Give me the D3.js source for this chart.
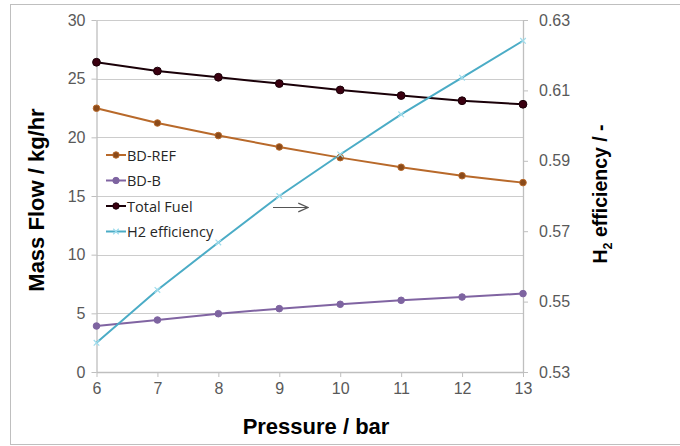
<!DOCTYPE html>
<html><head><meta charset="utf-8">
<script src="https://cdn.jsdelivr.net/npm/d3@7"></script>
<style>body{margin:0;background:#fff}svg{display:block;font-family:"Liberation Sans",Arial,sans-serif}</style>
</head><body><svg id="c" width="680" height="446"></svg>
<script>
const pressure = [6, 7, 8, 9, 10, 11, 12, 13];
const bdRef = [22.48, 21.22, 20.15, 19.18, 18.27, 17.45, 16.73, 16.14];
const bdB = [3.92, 4.43, 4.97, 5.40, 5.77, 6.11, 6.39, 6.68];
const totalFuel = [26.40, 25.65, 25.12, 24.58, 24.04, 23.56, 23.12, 22.82];
const h2Eff = [0.5383, 0.5533, 0.5668, 0.5800, 0.5918, 0.6032, 0.6136, 0.6241];
const leftTicks = [0, 5, 10, 15, 20, 25, 30];
const rightTicks = [0.53, 0.55, 0.57, 0.59, 0.61, 0.63];
const seriesNames = ["BD-REF", "BD-B", "Total Fuel", "H2 efficiency"];
const colors = ["#b8692a", "#8064a2", "#1a0008", "#4bacc6"];
const markerFill = ["#8a4a1a", "#7d64a0", "#3a0010", "#4bacc6"];

const svg = d3.select("#c");
const L = 96.5, R = 523, T = 20, B = 372;
const x = d3.scaleLinear().domain([6, 13]).range([L, R]);
const yL = d3.scaleLinear().domain([0, 30]).range([B, T]);
const yR = d3.scaleLinear().domain([0.53, 0.63]).range([B, T]);

// outer border
svg.append("rect").attr("x", 10.5).attr("y", 4.5).attr("width", 680).attr("height", 440)
  .attr("fill", "none").attr("stroke", "#bfbfbf").attr("stroke-width", 1);

// gridlines
svg.append("g").selectAll("line").data(leftTicks).join("line")
  .attr("x1", L).attr("x2", R).attr("y1", d => Math.round(yL(d)) + 0.5).attr("y2", d => Math.round(yL(d)) + 0.5)
  .attr("stroke", "#cccccc").attr("stroke-width", 1.2);

const tickColor = "#595959";
const gl = svg.append("g").attr("transform", `translate(${L},0)`)
  .call(d3.axisLeft(yL).tickValues(leftTicks).tickSize(5).tickPadding(6).tickSizeOuter(0));
const gr = svg.append("g").attr("transform", `translate(${R},0)`)
  .call(d3.axisRight(yR).tickValues(rightTicks).tickSize(5).tickPadding(11).tickFormat(d3.format(".2f")).tickSizeOuter(0));
const gb = svg.append("g").attr("transform", `translate(0,${B})`)
  .call(d3.axisBottom(x).tickValues(pressure).tickFormat(d3.format("d")).tickSize(5).tickPadding(6).tickSizeOuter(0));
[gl, gr, gb].forEach(g => {
  g.selectAll("path.domain").attr("stroke", "#bfbfbf").attr("stroke-width", 1.3);
  g.selectAll(".tick line").attr("stroke", "#bfbfbf");
  g.selectAll("text").attr("fill", tickColor).style("font-size", "16px").style("font-family", "Liberation Sans, Arial, sans-serif");
});

const lineL = d3.line().x((d, i) => x(pressure[i])).y(d => yL(d));
const lineR = d3.line().x((d, i) => x(pressure[i])).y(d => yR(d));
const leftSeries = [bdRef, bdB, totalFuel];
leftSeries.forEach((s, k) => {
  svg.append("path").datum(s).attr("d", lineL).attr("fill", "none").attr("stroke", colors[k]).attr("stroke-width", 2);
});
svg.append("path").datum(h2Eff).attr("d", lineR).attr("fill", "none").attr("stroke", colors[3]).attr("stroke-width", 2);

leftSeries.forEach((s, k) => {
  svg.append("g").selectAll("circle").data(s).join("circle")
    .attr("cx", (d, i) => x(pressure[i])).attr("cy", d => yL(d)).attr("r", k === 2 ? 3.9 : 3.3)
    .attr("fill", markerFill[k]).attr("stroke", colors[k]).attr("stroke-width", 1);
});
const cross = d3.symbol().type(d3.symbolX).size(22);
svg.append("g").selectAll("path").data(h2Eff).join("path")
  .attr("d", cross).attr("transform", (d, i) => `translate(${x(pressure[i])},${yR(d)})`)
  .attr("stroke", "#9fdcec").attr("stroke-width", 1.2).attr("fill", "none");

// legend
const lg = svg.append("g");
seriesNames.forEach((n, k) => {
  const yy = 155 + k * 25.5;
  lg.append("line").attr("x1", 106).attr("x2", 126).attr("y1", yy).attr("y2", yy)
    .attr("stroke", colors[k]).attr("stroke-width", 2);
  if (k < 3) {
    lg.append("circle").attr("cx", 116).attr("cy", yy).attr("r", 3.2).attr("fill", markerFill[k]).attr("stroke", colors[k]);
  } else {
    lg.append("path").attr("d", cross).attr("transform", `translate(116,${yy})`).attr("stroke", "#9fdcec").attr("stroke-width", 1.2);
  }
  lg.append("text").attr("x", 127).attr("y", yy + 5.5).text(n)
    .attr("fill", "#262626").style("font-size", "14.5px").style("font-family", "Open Sans, Liberation Sans, sans-serif");
});

// arrow
svg.append("defs").append("marker").attr("id", "ah").attr("viewBox", "0 0 10 10").attr("refX", 9).attr("refY", 5)
  .attr("markerWidth", 9).attr("markerHeight", 9).attr("orient", "auto")
  .append("path").attr("d", "M0,1 L9,5 L0,9").attr("fill", "none").attr("stroke", "#555").attr("stroke-width", 1.2);
svg.append("line").attr("x1", 273).attr("x2", 308).attr("y1", 207.5).attr("y2", 207.5)
  .attr("stroke", "#555").attr("stroke-width", 1.2).attr("marker-end", "url(#ah)");

// axis titles
svg.append("text").attr("transform", `translate(44,200) rotate(-90)`).attr("text-anchor", "middle")
  .style("font-size", "22px").style("font-weight", "bold").attr("fill", "#000").text("Mass Flow / kg/hr");
const rt = svg.append("text").attr("transform", `translate(607,194) rotate(-90)`).attr("text-anchor", "middle")
  .style("font-size", "19.5px").style("font-weight", "bold").attr("fill", "#000");
rt.append("tspan").text("H");
rt.append("tspan").attr("dy", 5).style("font-size", "12.5px").text("2");
rt.append("tspan").attr("dy", -5).text(" efficiency / -");
svg.append("text").attr("x", 316).attr("y", 434).attr("text-anchor", "middle")
  .style("font-size", "22px").style("font-weight", "bold").attr("fill", "#000").text("Pressure / bar");
</script></body></html>
